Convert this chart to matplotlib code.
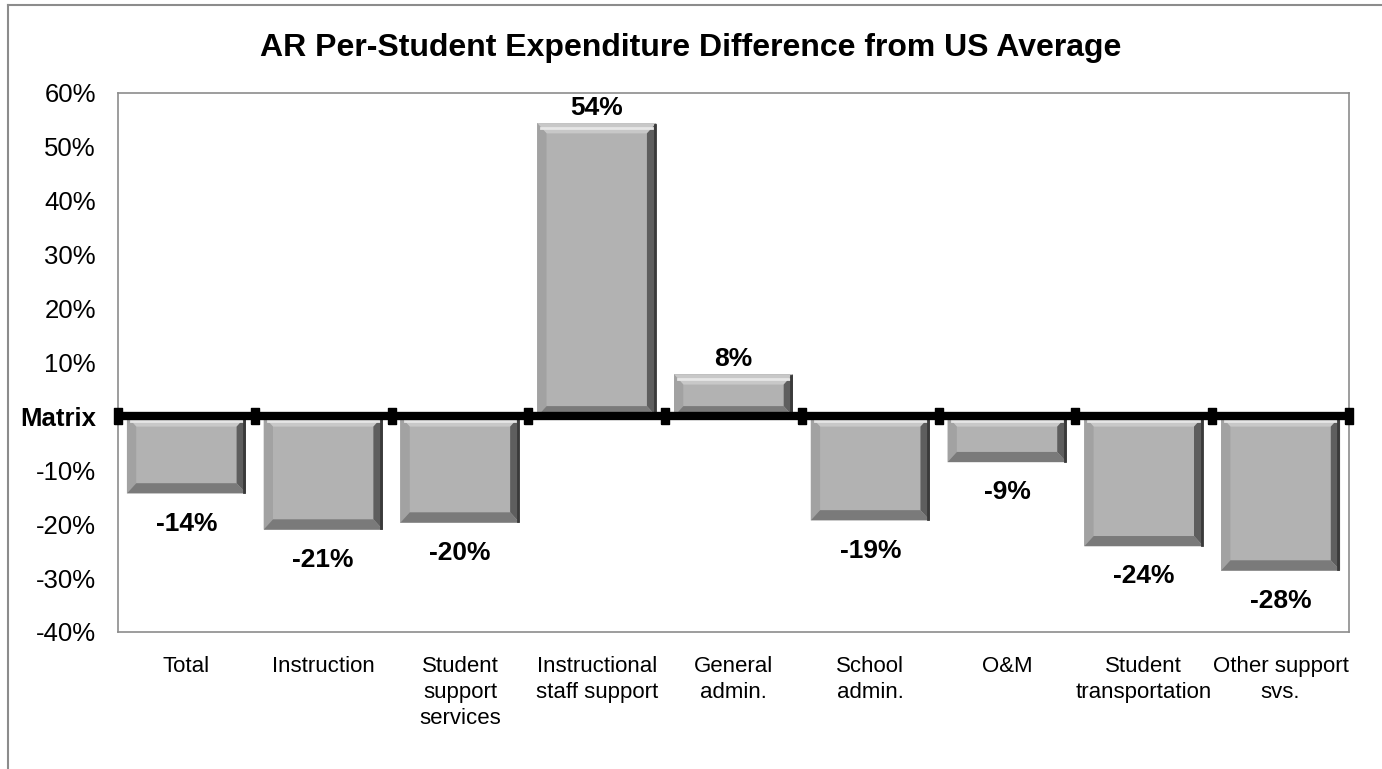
import matplotlib.pyplot as plt
from matplotlib.patches import Polygon
from matplotlib.lines import Line2D

plt.rcParams['font.family'] = ['Liberation Sans', 'DejaVu Sans']

categories = ['Total', 'Instruction', 'Student\nsupport\nservices', 'Instructional\nstaff support',
              'General\nadmin.', 'School\nadmin.', 'O&M', 'Student\ntransportation', 'Other support\nsvs.']
values = [-14.3, -21.0, -19.7, 54.4, 7.8, -19.3, -8.5, -24.1, -28.6]
labels = ['-14%', '-21%', '-20%', '54%', '8%', '-19%', '-9%', '-24%', '-28%']
yticks = [60, 50, 40, 30, 20, 10, 0, -10, -20, -30, -40]
ytick_labels = ['60%', '50%', '40%', '30%', '20%', '10%', 'Matrix', '-10%', '-20%', '-30%', '-40%']

fig = plt.figure(figsize=(13.82, 7.69), dpi=100)
ax = fig.add_axes([0.0854, 0.1782, 0.8907, 0.7009])

n = len(values)
xs = list(range(n))
width = 0.87
ax.bar(xs, values, width=width, color='#b2b2b2', edgecolor='none', zorder=2)

# bevel edges (about 9-10 px)
bx = 0.068
by = 1.9
for x, v in zip(xs, values):
    x0, x1 = x - width / 2, x + width / 2
    y0, y1 = min(0, v), max(0, v)
    ix0, ix1 = x0 + bx, x1 - bx
    iy0, iy1 = y0 + by, y1 - by
    ax.add_patch(Polygon([(x0, y1), (x1, y1), (ix1, iy1), (ix0, iy1)], closed=True,
                         color='#c8c8c8', lw=0, zorder=3))
    ax.add_patch(Polygon([(x0, y0), (x0, y1), (ix0, iy1), (ix0, iy0)], closed=True,
                         color='#a2a2a2', lw=0, zorder=3))
    ax.add_patch(Polygon([(x1, y0), (x1, y1), (ix1, iy1), (ix1, iy0)], closed=True,
                         color='#5e5e5e', lw=0, zorder=3))
    ax.add_patch(Polygon([(x0, y0), (x1, y0), (ix1, iy0), (ix0, iy0)], closed=True,
                         color='#7a7a7a', lw=0, zorder=3))
    ax.plot([x0 + 0.03, x1 - 0.03], [y1 - by * 0.45, y1 - by * 0.45], color='#e6e6e6', lw=2, zorder=3)
    ax.plot([x1 - 0.012, x1 - 0.012], [y0 + 0.3, y1 - 0.3], color='#3a3a3a', lw=2, zorder=3)

for x, v, lab in zip(xs, values, labels):
    if v >= 0:
        ax.text(x, v + 2.8, lab, ha='center', va='center', fontsize=19, fontweight='bold', zorder=5)
    else:
        ax.text(x, v - 5.6, lab, ha='center', va='center', fontsize=19, fontweight='bold', zorder=5)

# thick zero line with boundary markers
bounds = [i - 0.5 for i in range(n + 1)]
rect = [(-0.55, -1), (0.55, -1), (0.55, 1), (-0.55, 1), (-0.55, -1)]
ax.plot([-0.5, n - 0.5], [0, 0], color='black', lw=6, zorder=4, solid_capstyle='butt')
ax.plot(bounds, [0] * len(bounds), linestyle='none', marker=rect, color='black', ms=11,
        zorder=4, clip_on=False)

ax.set_xlim(-0.5, n - 0.5)
ax.set_ylim(-40, 60)
ax.set_yticks(yticks)
ax.set_yticklabels(ytick_labels, fontsize=18.5)
for t in ax.get_yticklabels():
    if t.get_text() == 'Matrix':
        t.set_fontweight('bold')
ax.set_xticks(xs)
ax.set_xticklabels(categories, fontsize=16, linespacing=1.33, va='top')
ax.tick_params(axis='both', length=0)
ax.tick_params(axis='x', pad=17)
ax.tick_params(axis='y', pad=16)
for s in ax.spines.values():
    s.set_color('#8c8c8c')
    s.set_linewidth(1.2)

fig.text(0.5, 0.9376, 'AR Per-Student Expenditure Difference from US Average',
         ha='center', va='center', fontsize=23, fontweight='bold')

# outer chart border (clipped at right/bottom)
fig.add_artist(Line2D([8 / 1382, 1.0], [1 - 5 / 769, 1 - 5 / 769], color='#8c8c8c', lw=1.5))
fig.add_artist(Line2D([8 / 1382, 8 / 1382], [0, 1 - 5 / 769], color='#8c8c8c', lw=1.5))

fig.savefig('out.png', dpi=100)
